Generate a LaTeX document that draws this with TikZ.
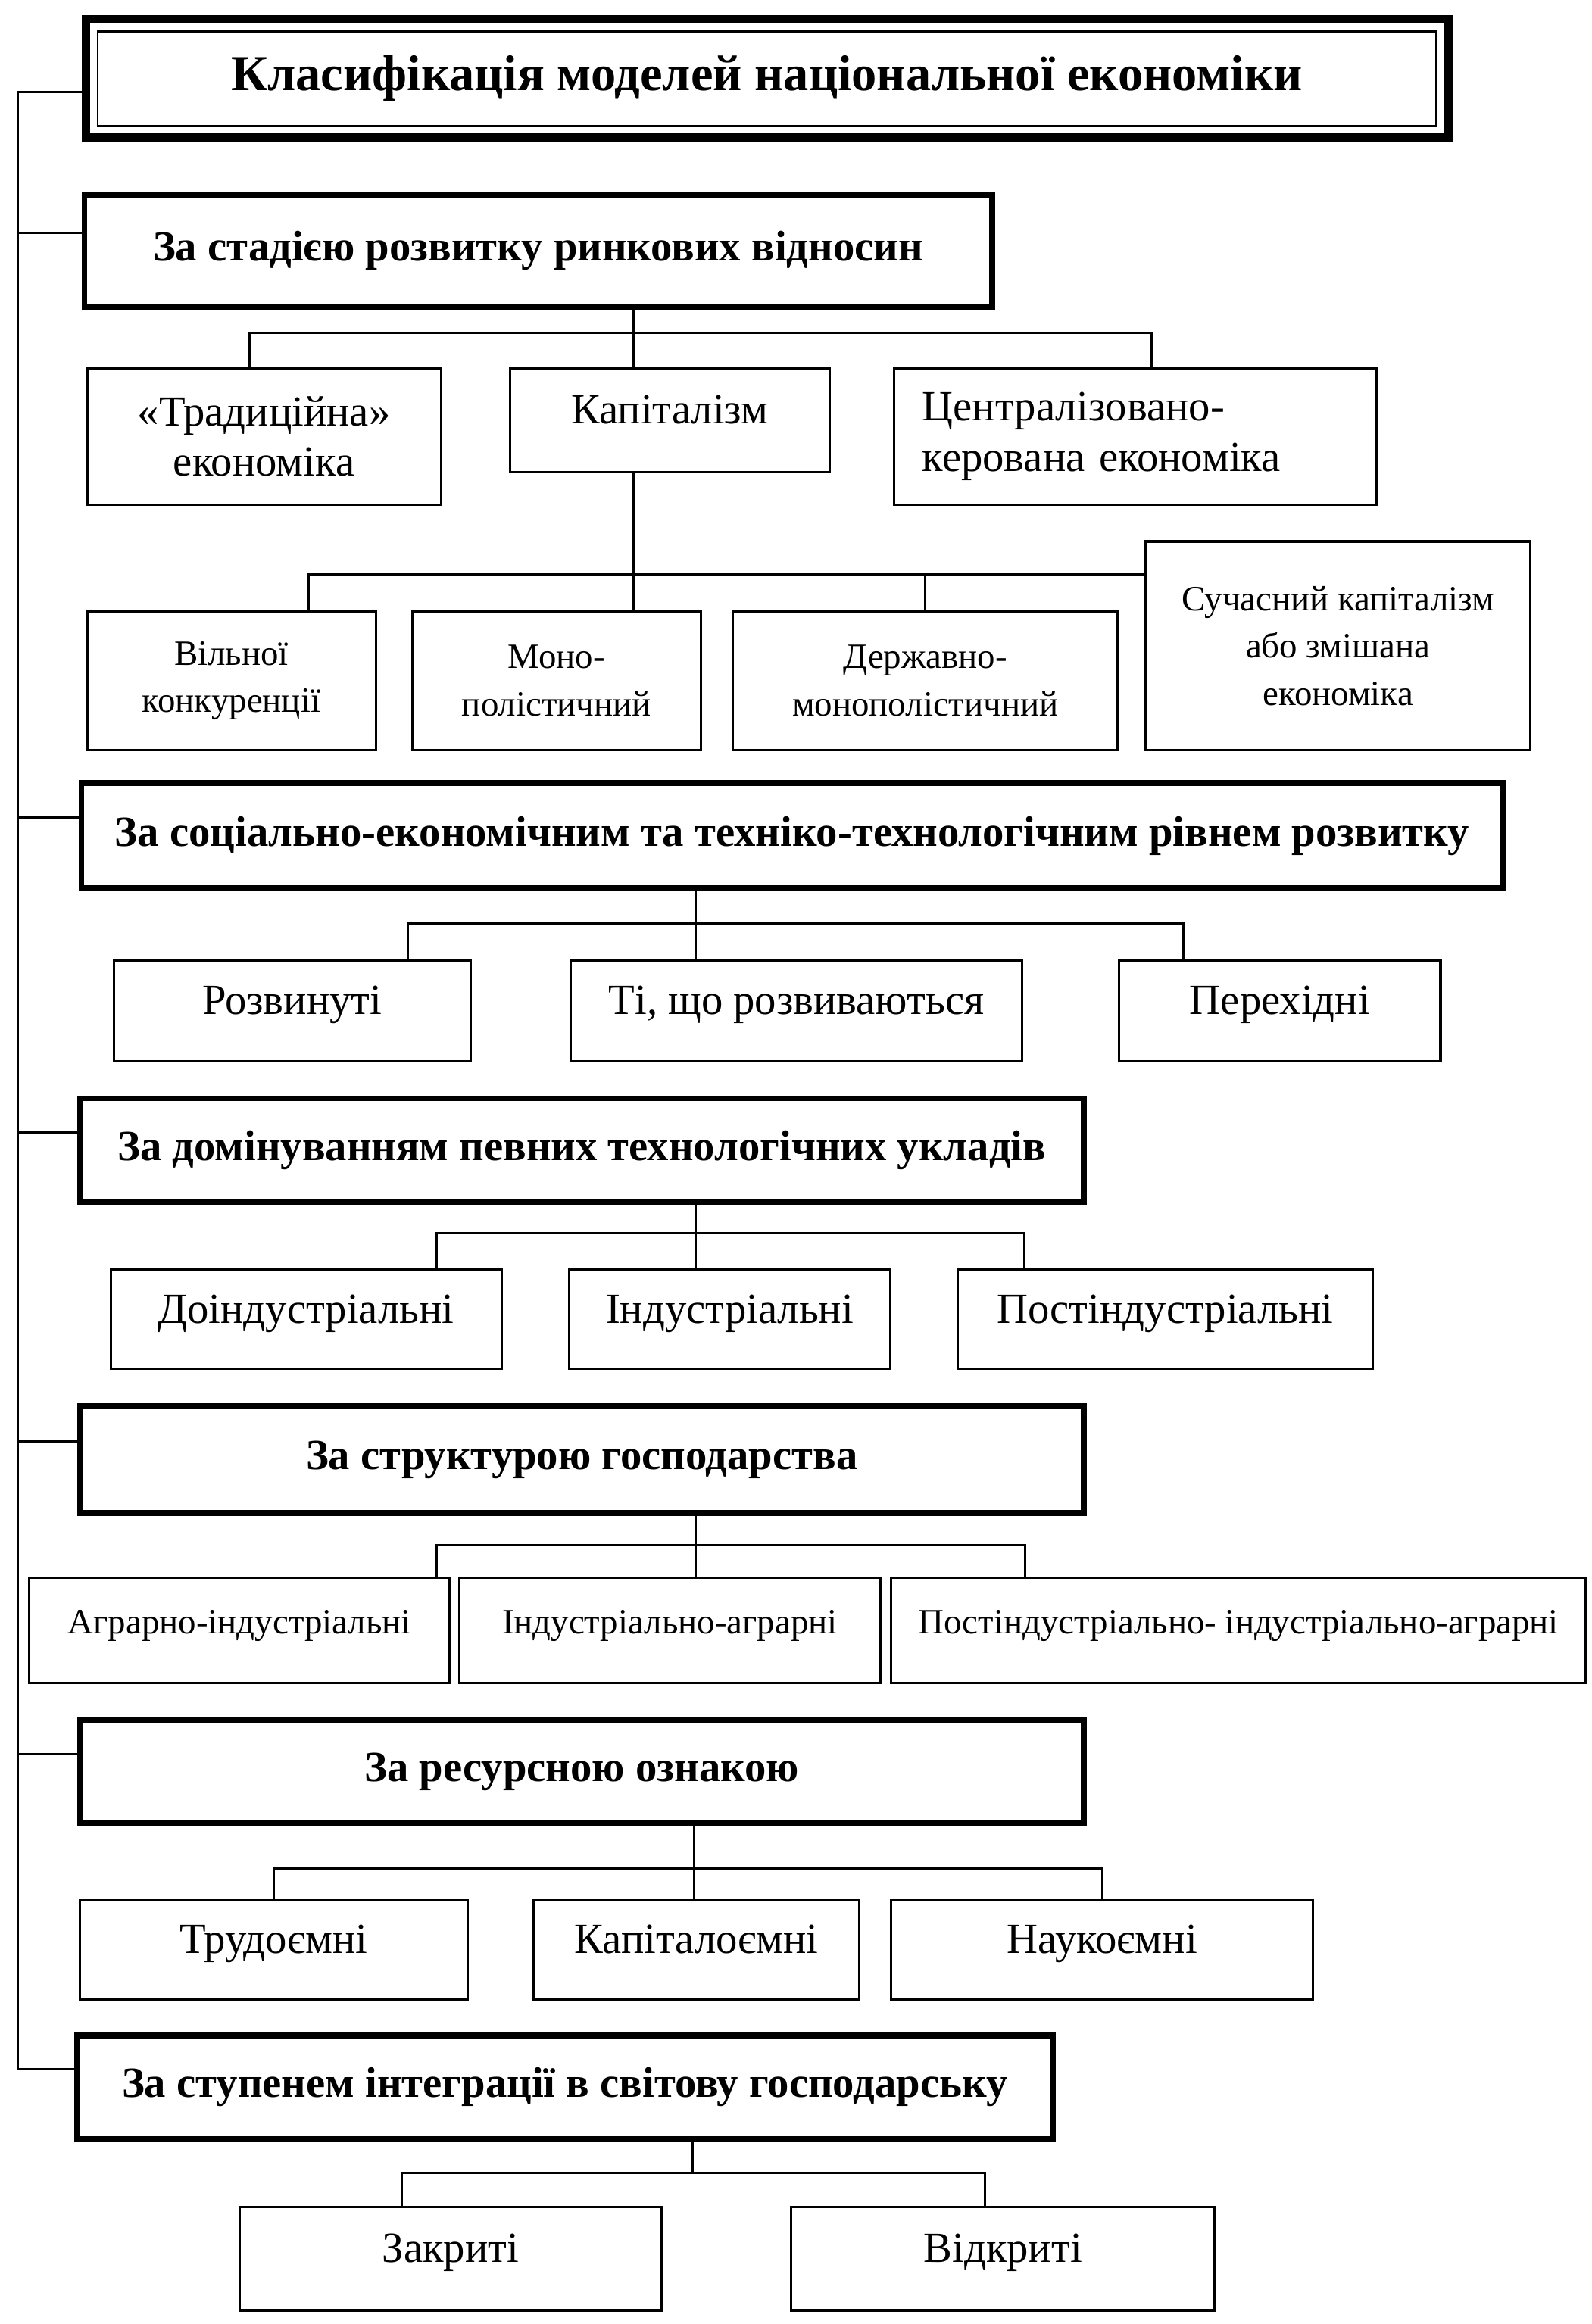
\documentclass[tikz,border=0pt]{standalone}
\usepackage{fontspec}
\setmainfont{Liberation Serif}
\usetikzlibrary{positioning}
\tikzset{
	root/.style = {
		draw = black,
		line width = 6pt,
		rectangle,
		text centered,
		anchor = north west,
		font = \bfseries\fontsize{34}{38}\selectfont
	},
	group/.style = {
		draw = black,
		line width = 4pt,
		rectangle,
		text centered,
		anchor = north west,
		font = \bfseries\fontsize{29}{32}\selectfont
	},
	leaf/.style = {
		draw = black,
		line width = 1.6pt,
		rectangle,
		align = center,
		anchor = north west,
		font = \fontsize{29}{34}\selectfont
	},
	subleaf/.style = {
		leaf,
		font = \fontsize{24}{32}\selectfont
	},
	single/.style = {
		text height = 0.72em,
		text depth = 0.22em
	},
	link/.style = {
		line width = 1.6pt
	}
}

\begin{document}
\begin{tikzpicture}[x = 1pt, y = -1pt]
    \useasboundingbox (0,0) rectangle (1075,1570) ;

    \node [root, minimum width = 920pt, minimum height = 80pt] (title) at (55,10) {Класифікація моделей національної економіки} ;
    \draw [line width = 1.5pt] ([shift = {(11pt,-11pt)}]title.north west) rectangle ([shift = {(-11pt,11pt)}]title.south east) ;

    \node [group, minimum width = 613pt, minimum height = 75pt] (h1) at (55,130) {За стадією розвитку ринкових відносин} ;
    \node [leaf, minimum width = 239pt, minimum height = 92pt] (trad) at (58,248) {«Традиційна»\\економіка} ;
    \node [leaf, single, minimum width = 216pt, minimum height = 70pt, right = 45pt of trad.north east, anchor = north west] (kap) {Капіталізм} ;
    \node [leaf, minimum width = 326pt, minimum height = 92pt, right = 42pt of kap.north east, anchor = north west, align = left, text width = 288pt] (cent) {Централізовано-\\керована економіка} ;

    \node [subleaf, minimum width = 195pt, minimum height = 94pt] (vil) at (58,412) {Вільної\\конкуренції} ;
    \node [subleaf, minimum width = 195pt, minimum height = 94pt, right = 23pt of vil.north east, anchor = north west] (mono) {Моно-\\полістичний} ;
    \node [subleaf, minimum width = 260pt, minimum height = 94pt, right = 20pt of mono.north east, anchor = north west] (derzh) {Державно-\\монополістичний} ;
    \node [subleaf, minimum width = 260pt, minimum height = 141pt] (mod) at (773,365) {Сучасний капіталізм\\або змішана\\економіка} ;

    \node [group, minimum width = 960pt, minimum height = 71pt] (h2) at (53,527) {За соціально-економічним та техніко-технологічним рівнем розвитку} ;
    \node [leaf, single, minimum width = 241pt, minimum height = 68pt] (rozv) at (76,648) {Розвинуті} ;
    \node [leaf, single, minimum width = 305pt, minimum height = 68pt, right = 66pt of rozv.north east, anchor = north west] (ti) {Ті, що розвиваються} ;
    \node [leaf, single, minimum width = 217pt, minimum height = 68pt, right = 64pt of ti.north east, anchor = north west] (perekh) {Перехідні} ;

    \node [group, minimum width = 678pt, minimum height = 70pt] (h3) at (52,740) {За домінуванням певних технологічних укладів} ;
    \node [leaf, single, minimum width = 264pt, minimum height = 67pt] (doind) at (74,857) {Доіндустріальні} ;
    \node [leaf, single, minimum width = 217pt, minimum height = 67pt, right = 44pt of doind.north east, anchor = north west] (ind) {Індустріальні} ;
    \node [leaf, single, minimum width = 280pt, minimum height = 67pt, right = 44pt of ind.north east, anchor = north west] (postind) {Постіндустріальні} ;

    \node [group, minimum width = 678pt, minimum height = 72pt] (h4) at (52,948) {За структурою господарства} ;
    \node [subleaf, single, minimum width = 284pt, minimum height = 71pt] (agr) at (19,1065) {Аграрно-індустріальні} ;
    \node [subleaf, single, minimum width = 284pt, minimum height = 71pt, right = 5pt of agr.north east, anchor = north west] (indagr) {Індустріально-аграрні} ;
    \node [subleaf, single, minimum width = 469pt, minimum height = 71pt, right = 6pt of indagr.north east, anchor = north west] (postagr) {Постіндустріально- індустріально-аграрні} ;

    \node [group, minimum width = 678pt, minimum height = 70pt] (h5) at (52,1160) {За ресурсною ознакою} ;
    \node [leaf, single, minimum width = 262pt, minimum height = 67pt] (trud) at (53,1283) {Трудоємні} ;
    \node [leaf, single, minimum width = 220pt, minimum height = 67pt, right = 43pt of trud.north east, anchor = north west] (kapit) {Капіталоємні} ;
    \node [leaf, single, minimum width = 285pt, minimum height = 67pt, right = 20pt of kapit.north east, anchor = north west] (nauk) {Наукоємні} ;

    \node [group, minimum width = 659pt, minimum height = 70pt] (h6) at (50,1373) {За ступенем інтеграції в світову господарську} ;
    \node [leaf, single, minimum width = 285pt, minimum height = 70pt] (zakr) at (161,1490) {Закриті} ;
    \node [leaf, single, minimum width = 286pt, minimum height = 70pt, right = 86pt of zakr.north east, anchor = north west] (vidkr) {Відкриті} ;

    % left trunk
    \coordinate (trunk) at (12,62) ;
    \draw [link] (trunk) -- (trunk -| title.west) ;
    \foreach \n in {h1, h2, h3, h4, h5, h6}
        \draw [link] (trunk) |- ([yshift = 12pt]\n.west) ;

    % branches
    \coordinate (j1) at (428,225) ;
    \draw [link] (h1.south -| j1) -- (kap.north -| j1) ;
    \draw [link] ([xshift = -10pt]trad.north) |- (j1) -| ([xshift = 11pt]cent.north) ;

    \coordinate (j2) at (428,388) ;
    \draw [link] (kap.south -| j2) -- (mono.north -| j2) ;
    \draw [link] ([xshift = 52pt]vil.north) |- (j2) -- (j2 -| mod.west) ;
    \draw [link] (derzh.north) -- (derzh.north |- j2) ;

    \coordinate (j3) at (470,624) ;
    \draw [link] (h2.south -| j3) -- (ti.north -| j3) ;
    \draw [link] ([xshift = 78pt]rozv.north) |- (j3) -| ([xshift = -65pt]perekh.north) ;

    \coordinate (j4) at (470,833) ;
    \draw [link] (h3.south -| j4) -- (ind.north -| j4) ;
    \draw [link] ([xshift = 88pt]doind.north) |- (j4) -| ([xshift = -95pt]postind.north) ;

    \coordinate (j5) at (470,1044) ;
    \draw [link] (h4.south -| j5) -- (indagr.north -| j5) ;
    \draw [link] ([xshift = 133pt]agr.north) |- (j5) -| ([xshift = -144pt]postagr.north) ;

    \coordinate (j6) at (469,1262) ;
    \draw [link] (h5.south -| j6) -- (kapit.north -| j6) ;
    \draw [link] (trud.north) |- (j6) -| (nauk.north) ;

    \coordinate (j7) at (468,1468) ;
    \draw [link] (h6.south -| j7) -- (j7) ;
    \draw [link] ([xshift = -33pt]zakr.north) |- (j7) -| ([xshift = -12pt]vidkr.north) ;
\end{tikzpicture}
\end{document}
